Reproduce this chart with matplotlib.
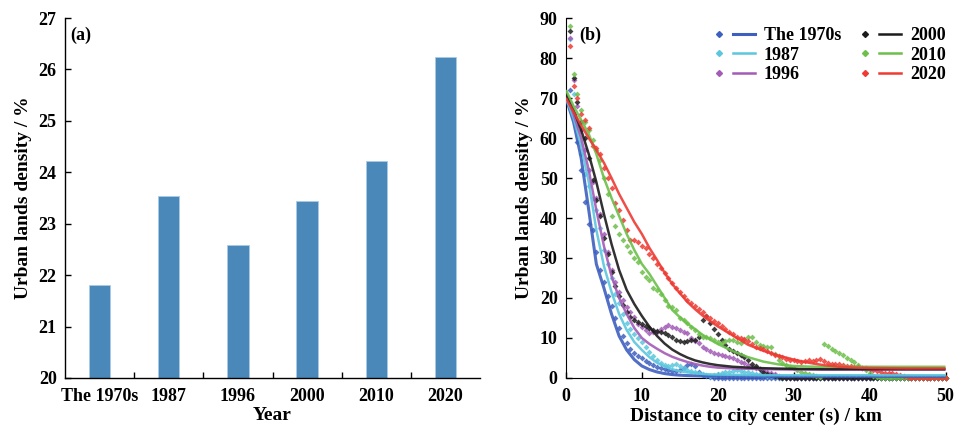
import numpy as np
import matplotlib
matplotlib.use('Agg')
import matplotlib.pyplot as plt
from matplotlib.lines import Line2D
from matplotlib.legend_handler import HandlerTuple

plt.rcParams['font.family'] = ['Liberation Serif', 'DejaVu Serif']
plt.rcParams['font.weight'] = 'bold'
plt.rcParams['axes.labelweight'] = 'bold'

# ---------------- panel (a) data ----------------
years = ['The 1970s', '1987', '1996', '2000', '2010', '2020']
density = [21.80, 23.53, 22.58, 23.44, 24.21, 26.24]

# ---------------- panel (b) data ----------------
series_names = ['The 1970s', '1987', '1996', '2000', '2010', '2020']
series_colors = ['#3d5fbf', '#5cc6dd', '#a35bb6', '#1c1c1c', '#6cc04a', '#ee3b34']
step_km = 0.5  # sampling interval of the scatter points (first point at 0.5 km)

pts_1970s = [72, 66, 59, 52, 44, 38.5, 37, 31.5, 27, 24,
             20.5, 18, 15, 12.5, 10.5, 8.8, 7.3, 6.3, 5.5, 4.9,
             4.3, 3.8, 3.3, 2.8, 2.5, 2.2, 2.0, 1.8, 1.7, 2.0,
             2.6, 3.2, 3.5, 3.0, 1.6, 0.8, 0.4, 0.2, 0, 0,
             0, 0, 0, 0, 0, 0, 0, 0, 0, 0,
             0, 0, 0, 0, 0, 0, 0, 0, 0, 0,
             0, 0, 0, 0, 0, 0, 0, 0, 0, 0,
             0, 0, 0, 0, 0, 0, 0, 0, 0, 0,
             0, 0, 0, 0, 0, 0, 0, 0, 0, 0,
             0, 0, 0, 0, 0, 0, 0, 0, 0, 0]
pts_1987 = [84.7, 71, 63, 56, 51, 48, 45, 42, 37.5, 32,
            28.5, 25, 21, 18.7, 16, 13.8, 12.3, 11, 10, 9,
            7.8, 6.5, 5.5, 4.5, 3.8, 3.3, 3.0, 3.2, 3.5, 3.0,
            2.5, 2.1, 1.8, 1.5, 1.2, 0.9, 0.7, 0.6, 0.7, 1.0,
            1.3, 1.4, 1.6, 1.8, 1.9, 1.7, 1.5, 1.4, 1.2, 1.1,
            0.9, 0.8, 0.6, 0.5, 0.4, 0.2, 0, 0, 0, 0,
            0, 0, 0, 0, 0, 0, 0, 0, 0, 0,
            0, 0, 0, 0, 0, 0, 0, 0, 0, 0,
            0, 0, 0, 0, 0, 0, 0, 0, 0, 0,
            0, 0, 0, 0, 0, 0, 0, 0, 0, 0]
pts_1996 = [85, 74.5, 68, 62, 57, 52, 49, 45, 41, 36,
            31.5, 27, 24, 21.5, 19.5, 17.8, 16.5, 15.3, 13.5, 12.8,
            12, 11.2, 11.4, 11.6, 12.3, 12.8, 13.2, 12.8, 12.4, 12,
            11.6, 11.2, 10, 9.2, 8.7, 7.8, 7.2, 6.7, 6.2, 6.0,
            5.8, 5.5, 5.2, 4.9, 4.5, 4.1, 3.7, 3.2, 2.8, 2.5,
            2.2, 2.0, 1.6, 1.3, 1.0, 0.6, 0.3, 0, 0, 0,
            0, 0, 0, 0, 0, 0, 0, 0, 0, 0,
            0, 0, 0, 0, 0, 0, 0, 0, 0, 0,
            0, 0, 0, 0, 0, 0, 0, 0, 0, 0,
            0, 0, 0, 0, 0, 0, 0, 0, 0, 0]
pts_2000 = [86.8, 75, 69, 64, 60, 55, 49.5, 44.5, 40.5, 35,
            31, 26.5, 23, 20.5, 18.3, 16.5, 15.3, 14.5, 14, 13.5,
            13, 12.5, 12, 11.8, 11.5, 11.2, 10.7, 10.3, 9.5, 9.3,
            9.1, 9.2, 9.4, 9.6, 10.3, 14.5, 15.5, 13.7, 12.3, 11,
            9.5, 8.3, 7.3, 6.8, 6.2, 5.8, 5.2, 4.5, 3.5, 3.0,
            2.2, 1.6, 1.1, 0.7, 0.4, 0.2, 0, 0, 0, 0,
            0, 0, 0, 0, 0, 0, 0, 0, 0, 0,
            0, 0, 0, 0, 0, 0, 0, 0, 0, 0,
            0, 0, 0, 0, 0, 0, 0, 0, 0, 0,
            0, 0, 0, 0, 0, 0, 0, 0, 0, 0]
pts_2010 = [88, 76, 71, 67, 64, 62, 59.5, 57, 54.5, 50,
            46, 40.5, 38, 36, 34.5, 33, 31.5, 30, 29, 26.5,
            25.3, 24.5, 22.5, 22, 21, 19.5, 18, 17.8, 17, 15,
            14.5, 13.7, 12.8, 12, 11, 10.3, 10.3, 10, 9.5, 9,
            8.7, 9.2, 9.5, 9.5, 9.0, 8.7, 9.5, 10.3, 10.3, 9,
            8.3, 8, 7.8, 7.8, 6, 4.5, 3.8, 3.3, 2.8, 2.4,
            2.0, 1.6, 1.3, 1.1, 0.8, 0.5, 0.3, 8.5, 7.9, 7.3,
            6.7, 6.3, 5.8, 5.1, 4.5, 3.9, 3.3, 2.6, 2.0, 1.3,
            0.6, 0.2, 0, 0, 0, 0, 0, 0, 0, 0,
            0, 0, 0, 0, 0, 0, 0, 0, 0, 0]
pts_2020 = [83, 73, 70, 66, 64.5, 62.4, 58, 57.5, 56, 52.4,
            50, 47.4, 43.7, 42, 39.5, 37, 34.5, 34.5, 34, 33,
            32.5, 31, 30, 28.5, 27.5, 26.2, 25, 23.7, 22.5, 21.5,
            20.5, 19.5, 18.7, 18, 17.3, 16.5, 15.5, 15, 14.2, 13.7,
            13, 12.3, 11.5, 11, 10.3, 10, 9.7, 9.2, 8.5, 7.8,
            7.5, 7.2, 6.8, 6.3, 5.7, 5.5, 5.3, 4.8, 4.5, 4.4,
            4.2, 3.9, 4.3, 4.6, 4.2, 4.4, 4.7, 4.3, 3.8, 3.6,
            3.5, 3.4, 3.2, 3.0, 2.9, 2.8, 2.7, 2.6, 2.4, 2.2,
            1.9, 1.7, 1.4, 1.3, 1.3, 1.2, 1.1, 0.8, 0.5, 0.3,
            0.1, 0, 0, 0, 0, 0, 0, 0, 0, 0]

# fitted curves, read at these distances (km)
fit_dist = [0, 1, 2, 3, 4, 5, 6, 7, 8, 9, 10, 11, 12, 13, 14, 15, 16, 17, 18, 19,
            20, 22, 24, 26, 28, 30, 32, 34, 36, 38, 40, 45, 50]
fit_1970s = [70, 64, 55, 42, 28.5, 22.5, 16, 10.5, 7, 4.6, 3, 2.1, 1.5, 1.1, 0.85, 0.7,
             0.6, 0.55, 0.5, 0.45, 0.45, 0.4, 0.4, 0.4, 0.4, 0.4, 0.4, 0.4, 0.4, 0.4, 0.4, 0.4, 0.4]
fit_1987 = [70, 65, 58, 49, 37, 28, 21.5, 16, 12, 9, 7, 5.2, 3.8, 2.9, 2.2, 1.7,
            1.4, 1.2, 1.0, 0.9, 0.85, 0.8, 0.75, 0.7, 0.7, 0.7, 0.7, 0.7, 0.7, 0.7, 0.7, 0.7, 0.7]
fit_1996 = [71, 66, 60, 52, 42, 33, 25.5, 20, 16, 12.5, 10, 8.5, 7.3, 6.2, 5.3, 4.6,
            4.0, 3.5, 3.1, 2.8, 2.6, 2.4, 2.3, 2.2, 2.15, 2.1, 2.1, 2.1, 2.1, 2.1, 2.1, 2.1, 2.1]
fit_2000 = [71, 67, 62, 56, 49, 41, 33.5, 27, 22, 18.5, 15.5, 12.8, 10.5, 8.6, 7.1, 6.0,
            5.1, 4.4, 3.9, 3.5, 3.2, 2.8, 2.6, 2.45, 2.35, 2.3, 2.25, 2.2, 2.2, 2.2, 2.2, 2.2, 2.2]
fit_2010 = [72, 68, 64.5, 61, 56, 50, 45, 40.5, 36, 32, 28.5, 26, 23, 20, 17, 15.2,
            13.6, 12.2, 10.8, 9.6, 8.5, 6.7, 5.2, 4.1, 3.4, 3.0, 2.85, 2.8, 2.8, 2.8, 2.8, 2.8, 2.8]
fit_2020 = [70, 66.5, 63.2, 60, 57, 53.8, 50, 46, 42.5, 39, 36, 32.5, 29.5, 26.3, 23.5, 21.2,
            19, 17.2, 15.6, 14.2, 12.9, 10.6, 8.3, 6.8, 5.6, 4.6, 3.8, 3.2, 2.8, 2.6, 2.5, 2.4, 2.4]

all_pts = [pts_1970s, pts_1987, pts_1996, pts_2000, pts_2010, pts_2020]
all_fit = [fit_1970s, fit_1987, fit_1996, fit_2000, fit_2010, fit_2020]

# ---------------- figure ----------------
fig = plt.figure(figsize=(9.57, 4.26), dpi=100)
FS_TICK = 13
FS_LAB = 14

# (a)
ax1 = fig.add_axes([0.0679, 0.1127, 0.4337, 0.845])
xpos = np.arange(len(years))
ax1.bar(xpos, density, width=0.31, color='#4a88ba', edgecolor='#a9cbe6', linewidth=0.6, zorder=2)
ax1.set_xlim(-0.5, len(years) - 0.5)
ax1.set_ylim(20, 27)
ax1.set_yticks(range(20, 28))
ax1.set_xticks(xpos)
ax1.set_xticklabels(years)
ax1.set_xticks(xpos[:-1] + 0.5, minor=True)
ax1.tick_params(axis='x', which='major', length=0, pad=7, labelsize=FS_TICK)
ax1.tick_params(axis='x', which='minor', direction='in', length=4, width=1)
ax1.tick_params(axis='y', direction='in', length=4, width=1, pad=6, labelsize=FS_TICK)
for s in ['top', 'right']:
    ax1.spines[s].set_visible(False)
ax1.spines['left'].set_linewidth(1)
ax1.spines['bottom'].set_linewidth(1)
ax1.set_xlabel('Year', fontsize=FS_LAB, labelpad=2)
ax1.set_ylabel('Urban lands density / %', fontsize=FS_LAB, labelpad=5)
ax1.text(0.012, 0.975, '(a)', transform=ax1.transAxes, va='top', ha='left', fontsize=FS_TICK)

# (b)
ax2 = fig.add_axes([0.5914, 0.1127, 0.3966, 0.845])
handles = []
for name, col, pts, fit in zip(series_names, series_colors, all_pts, all_fit):
    d = step_km * np.arange(1, len(pts) + 1)
    ax2.scatter(d, pts, s=9, marker='D', color=col, alpha=0.85, linewidths=0,
                clip_on=False, zorder=3)
for name, col, pts, fit in zip(series_names, series_colors, all_pts, all_fit):
    lw = 2.2 if name == 'The 1970s' else 1.8
    ax2.plot(fit_dist, fit, color=col, lw=lw, alpha=0.9, zorder=4, solid_capstyle='butt')
    mh = Line2D([], [], ls='none', marker='D', markersize=3, color=col)
    lh = Line2D([], [], color=col, lw=lw)
    handles.append((mh, lh))

ax2.set_xlim(0, 50)
ax2.set_ylim(0, 90)
ax2.set_xticks(range(0, 51, 10))
ax2.set_yticks(range(0, 91, 10))
ax2.tick_params(axis='both', direction='in', length=4, width=1, labelsize=FS_TICK)
ax2.tick_params(axis='x', pad=7)
ax2.tick_params(axis='y', pad=6)
for s in ['top', 'right']:
    ax2.spines[s].set_visible(False)
ax2.set_xlabel('Distance to city center (s) / km', fontsize=FS_LAB, labelpad=2)
ax2.set_ylabel('Urban lands density / %', fontsize=FS_LAB, labelpad=5)
ax2.text(0.036, 0.975, '(b)', transform=ax2.transAxes, va='top', ha='left', fontsize=FS_TICK)

ax2.legend(handles, series_names,
           handler_map={tuple: HandlerTuple(ndivide=None, pad=0.2)},
           ncol=2, loc='upper right', bbox_to_anchor=(1.0, 0.975), frameon=False,
           fontsize=FS_TICK, handlelength=2.6, handletextpad=0.5, columnspacing=0.7,
           labelspacing=0.15, borderaxespad=0, borderpad=0)

fig.savefig('out.png', dpi=100)
